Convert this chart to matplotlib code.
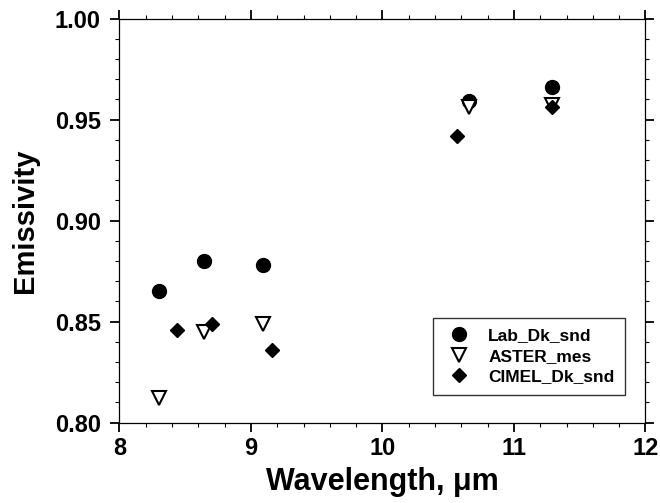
import matplotlib
matplotlib.use("Agg")
import matplotlib.pyplot as plt
from matplotlib.ticker import MultipleLocator, FormatStrFormatter

plt.rcParams['font.family'] = ['Liberation Sans', 'DejaVu Sans']
plt.rcParams['font.weight'] = 'bold'

# data
lab_x = [8.30, 8.64, 9.09, 10.66, 11.29]
lab_y = [0.865, 0.880, 0.878, 0.959, 0.966]
aster_x = [8.30, 8.64, 9.09, 10.66, 11.29]
aster_y = [0.812, 0.845, 0.849, 0.956, 0.957]
cimel_x = [8.44, 8.70, 9.16, 10.57, 11.29]
cimel_y = [0.846, 0.849, 0.836, 0.942, 0.956]
series_names = ['Lab_Dk_snd', 'ASTER_mes', 'CIMEL_Dk_snd']

fig = plt.figure(figsize=(6.6, 5.03), dpi=100)
ax = fig.add_axes([0.181, 0.160, 0.797, 0.803])

ax.plot(lab_x, lab_y, 'o', ms=10, color='black', label=series_names[0], zorder=3)
ax.plot(aster_x, aster_y, 'v', ms=9.5, mfc='white', mec='black', mew=1.5,
        label=series_names[1], zorder=4)
ax.plot(cimel_x, cimel_y, 'D', ms=7, color='black', label=series_names[2], zorder=5)

ax.set_xlim(8, 12)
ax.set_ylim(0.80, 1.00)
ax.xaxis.set_major_locator(MultipleLocator(1))
ax.xaxis.set_minor_locator(MultipleLocator(0.2))
ax.yaxis.set_major_locator(MultipleLocator(0.05))
ax.yaxis.set_minor_locator(MultipleLocator(0.01))
ax.yaxis.set_major_formatter(FormatStrFormatter('%.2f'))

ax.tick_params(which='both', direction='out', top=True, right=True,
               labeltop=False, labelright=False)
ax.tick_params(which='major', length=6.5, width=1.3, labelsize=17)
ax.tick_params(axis='y', which='major', pad=7)
ax.tick_params(axis='x', which='major', pad=4)
ax.tick_params(which='minor', length=3, width=0.8)
for lab in ax.get_xticklabels() + ax.get_yticklabels():
    lab.set_fontweight('bold')
for s in ax.spines.values():
    s.set_linewidth(0.9)

ax.set_xlabel('Wavelength, μm', fontsize=22, fontweight='bold', labelpad=5)
ax.set_ylabel('Emissivity', fontsize=21, fontweight='bold', labelpad=11)

leg = ax.legend(loc='lower right', bbox_to_anchor=(0.961, 0.069), borderaxespad=0,
                frameon=True, fancybox=False, edgecolor='black',
                handletextpad=0.8, borderpad=0.6, labelspacing=0.3,
                handlelength=1.8, prop={'weight': 'bold', 'size': 12.5})
leg.get_frame().set_linewidth(1.0)

fig.savefig('out.png', dpi=100)
